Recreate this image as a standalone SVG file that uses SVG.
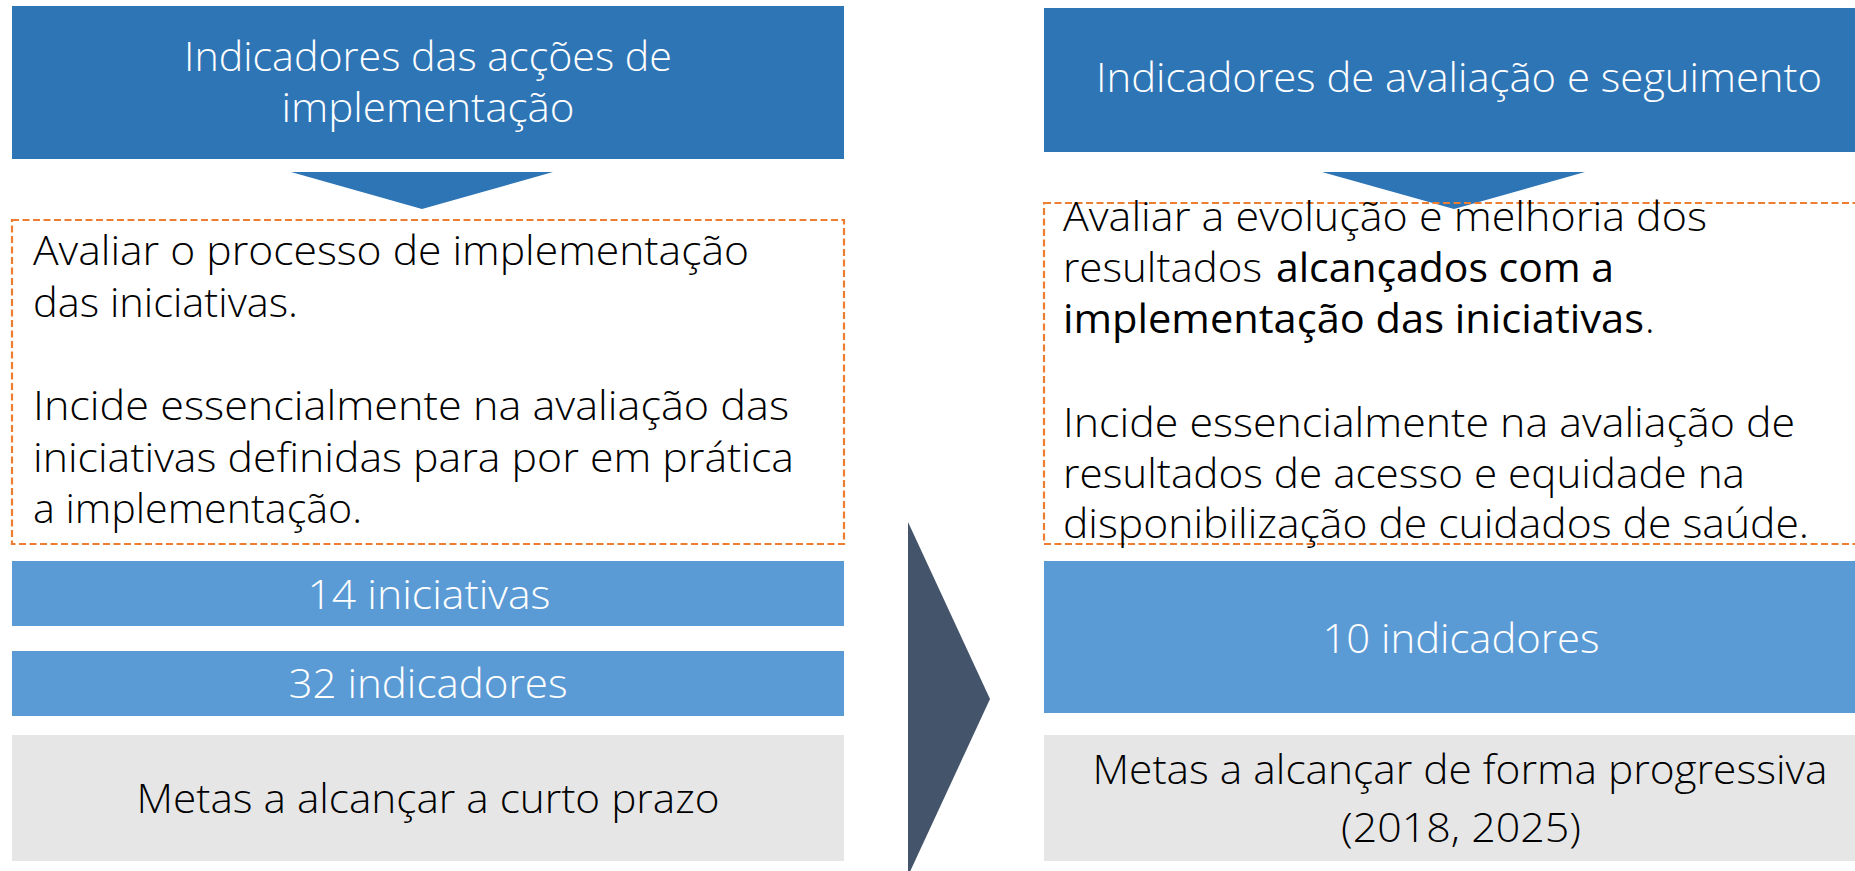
<svg xmlns="http://www.w3.org/2000/svg" width="1855" height="871" viewBox="0 0 1855 871">
<style>
.t{font-family:"Open Sans","Noto Sans","Liberation Sans",sans-serif;font-size:40px;font-weight:300;}
.w{fill:#FFFFFF;}
.k{fill:#000000;}
.m{text-anchor:middle;}
.b{font-weight:400;}
.dash{fill:none;stroke:#ED7D31;stroke-width:2.2;stroke-dasharray:7 3.5;}
.hdr{fill:#2E75B6;}
.bar{fill:#5B9BD5;}
.gray{fill:#E7E6E6;}
</style>
<rect width="1855" height="871" fill="#FFFFFF"/>

<g id="left-header">
<rect class="hdr" x="12" y="6" width="832" height="153"/>
<text class="t w m" x="428" y="71" textLength="488" lengthAdjust="spacingAndGlyphs">Indicadores das acções de</text>
<text class="t w m" x="428" y="122" textLength="293" lengthAdjust="spacingAndGlyphs">implementação</text>
</g>

<g id="right-header">
<rect class="hdr" x="1044" y="8" width="815" height="144"/>
<text class="t w m" x="1459" y="92" textLength="726" lengthAdjust="spacingAndGlyphs">Indicadores de avaliação e seguimento</text>
</g>

<g id="left-description">
<rect class="dash" x="12" y="220" width="832" height="324"/>
<text class="t k" x="33" y="265" textLength="716" lengthAdjust="spacingAndGlyphs">Avaliar o processo de implementação</text>
<text class="t k" x="33" y="317" textLength="265" lengthAdjust="spacingAndGlyphs">das iniciativas.</text>
<text class="t k" x="33" y="420" textLength="756" lengthAdjust="spacingAndGlyphs">Incide essencialmente na avaliação das</text>
<text class="t k" x="33" y="472" textLength="761" lengthAdjust="spacingAndGlyphs">iniciativas definidas para por em prática</text>
<text class="t k" x="33" y="523" textLength="329" lengthAdjust="spacingAndGlyphs">a implementação.</text>
</g>

<g id="connectors">
<polygon points="291,172 553,172 422,209" fill="#2E75B6"/>
<polygon points="1322,172 1585,172 1454,209" fill="#2E75B6"/>
<polygon points="908,522 990,699 908,876" fill="#44546A"/>
</g>

<g id="right-description">
<rect class="dash" x="1044" y="203" width="820" height="341"/>
<text class="t k" x="1063" y="231" textLength="644" lengthAdjust="spacingAndGlyphs">Avaliar a evolução e melhoria dos</text>
<text class="t k" x="1063" y="282" textLength="199" lengthAdjust="spacingAndGlyphs">resultados</text>
<text class="t k b" x="1276" y="282" textLength="338" lengthAdjust="spacingAndGlyphs">alcançados com a</text>
<text class="t k b" x="1063" y="333" textLength="581" lengthAdjust="spacingAndGlyphs">implementação das iniciativas</text>
<text class="t k" x="1645" y="333">.</text>
<text class="t k" x="1063" y="437" textLength="732" lengthAdjust="spacingAndGlyphs">Incide essencialmente na avaliação de</text>
<text class="t k" x="1063" y="488" textLength="682" lengthAdjust="spacingAndGlyphs">resultados de acesso e equidade na</text>
<text class="t k" x="1063" y="538" textLength="746" lengthAdjust="spacingAndGlyphs">disponibilização de cuidados de saúde.</text>
</g>

<g id="left-initiatives">
<rect class="bar" x="12" y="561" width="832" height="65"/>
<text class="t w m" x="429" y="609" textLength="243" lengthAdjust="spacingAndGlyphs">14 iniciativas</text>
</g>

<g id="left-indicators">
<rect class="bar" x="12" y="651" width="832" height="65"/>
<text class="t w m" x="428" y="698" textLength="279" lengthAdjust="spacingAndGlyphs">32 indicadores</text>
</g>

<g id="left-goals">
<rect class="gray" x="12" y="735" width="832" height="126"/>
<text class="t k m" x="428" y="813" textLength="583" lengthAdjust="spacingAndGlyphs">Metas a alcançar a curto prazo</text>
</g>

<g id="right-indicators">
<rect class="bar" x="1044" y="561" width="815" height="152"/>
<text class="t w m" x="1461" y="653" textLength="277" lengthAdjust="spacingAndGlyphs">10 indicadores</text>
</g>

<g id="right-goals">
<rect class="gray" x="1044" y="735" width="815" height="126"/>
<text class="t k m" x="1460" y="784" textLength="735" lengthAdjust="spacingAndGlyphs">Metas a alcançar de forma progressiva</text>
<text class="t k m" x="1461" y="842" textLength="240" lengthAdjust="spacingAndGlyphs">(2018, 2025)</text>
</g>
</svg>
